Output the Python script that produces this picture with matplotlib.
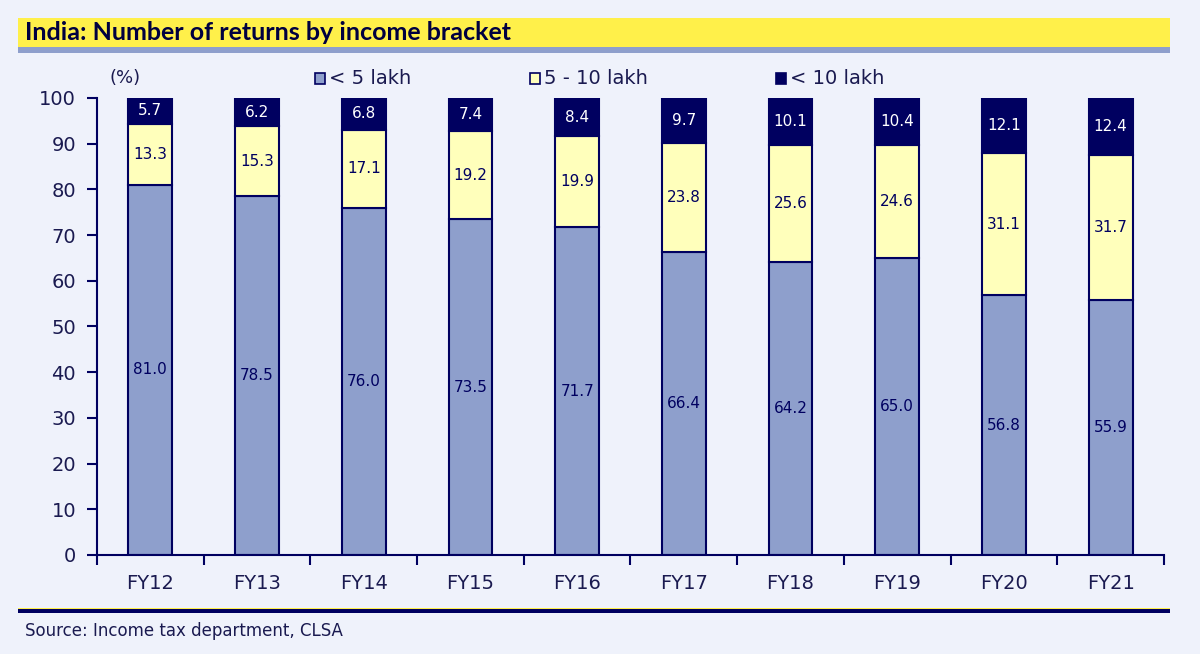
import matplotlib
import numpy as np
from matplotlib import pyplot as plt
from matplotlib.patches import Rectangle

matplotlib.use("Agg")

years = ["FY12", "FY13", "FY14", "FY15", "FY16", "FY17", "FY18", "FY19", "FY20", "FY21"]
below_5 = [81.0, 78.5, 76.0, 73.5, 71.7, 66.4, 64.2, 65.0, 56.8, 55.9]
from_5_to_10 = [13.3, 15.3, 17.1, 19.2, 19.9, 23.8, 25.6, 24.6, 31.1, 31.7]
above_10 = [5.7, 6.2, 6.8, 7.4, 8.4, 9.7, 10.1, 10.4, 12.1, 12.4]
series_names = ["< 5 lakh", "5 - 10 lakh", "< 10 lakh"]

bg = "#EFF2FB"
navy = "#000060"
colors = ["#8E9FCC", "#FFFFBB", navy]
text_colors = [navy, navy, "white"]

plt.rcParams["font.family"] = ["DejaVu Sans"]

fig = plt.figure(figsize=(12, 6.54), dpi=100, facecolor=bg)
ax = fig.add_axes([0.0808, 0.1514, 0.8892, 0.6988])
ax.set_facecolor(bg)

x = np.arange(len(years))
bottom = np.zeros(len(years))
for values, color, tcolor in zip([below_5, from_5_to_10, above_10], colors, text_colors):
    values = np.array(values)
    ax.bar(x, values, width=0.41, bottom=bottom, color=color, edgecolor=navy, linewidth=1.5)
    for xi, b, v in zip(x, bottom, values):
        ax.text(xi, b + v / 2, f"{v:.1f}", ha="center", va="center", fontsize=11, color=tcolor)
    bottom = bottom + values

ax.set_xlim(-0.5, len(years) - 0.5)
ax.set_ylim(0, 100)
ax.set_yticks(range(0, 101, 10))
ax.set_xticks(x)
ax.set_xticklabels(years)
ax.set_xticks(np.arange(-0.5, len(years)), minor=True)
ax.tick_params(axis="x", which="major", length=0, pad=14, labelsize=14, labelcolor="#1a1a50")
ax.tick_params(axis="x", which="minor", length=7, width=1.5, color=navy, direction="out")
ax.tick_params(axis="y", length=7, width=1.5, color=navy, labelsize=14, labelcolor="#1a1a50", pad=8)
for side in ["top", "right"]:
    ax.spines[side].set_visible(False)
for side in ["left", "bottom"]:
    ax.spines[side].set_color(navy)
    ax.spines[side].set_linewidth(1.5)

# header band
fig.patches.append(Rectangle((18 / 1200, 1 - 47 / 654), 1152 / 1200, 29 / 654, transform=fig.transFigure,
                             facecolor="#FFF04A", edgecolor="none"))
fig.patches.append(Rectangle((18 / 1200, 1 - 53 / 654), 1152 / 1200, 6 / 654, transform=fig.transFigure,
                             facecolor="#8E9FCC", edgecolor="none"))
fig.text(25 / 1200, 1 - 33 / 654, "India: Number of returns by income bracket", fontsize=18, fontweight="bold",
         family=["Lato", "DejaVu Sans"], color="#000040", va="center", ha="left")

# footer rule
fig.patches.append(Rectangle((18 / 1200, 1 - 613 / 654), 1152 / 1200, 4 / 654, transform=fig.transFigure,
                             facecolor=navy, edgecolor="none"))
fig.patches.append(Rectangle((18 / 1200, 1 - 609 / 654), 1152 / 1200, 1.5 / 654, transform=fig.transFigure,
                             facecolor="#FFF04A", edgecolor="none"))
fig.text(25 / 1200, 1 - 631 / 654, "Source: Income tax department, CLSA", fontsize=12, color="#1a1a50",
         va="center", ha="left")

# unit label and legend
fig.text(110 / 1200, 1 - 78 / 654, "(%)", fontsize=13, color="#1a1a50", va="center", ha="left")
legend_x = [315, 530, 776]
for lx, name, color in zip(legend_x, series_names, colors):
    fig.patches.append(Rectangle((lx / 1200, 1 - 84 / 654), 10 / 1200, 11 / 654, transform=fig.transFigure,
                                 facecolor=color, edgecolor=navy, linewidth=1.2))
    fig.text((lx + 14) / 1200, 1 - 78 / 654, name, fontsize=14, color="#1a1a50", va="center", ha="left")

fig.savefig("out.png", dpi=100, facecolor=bg)
